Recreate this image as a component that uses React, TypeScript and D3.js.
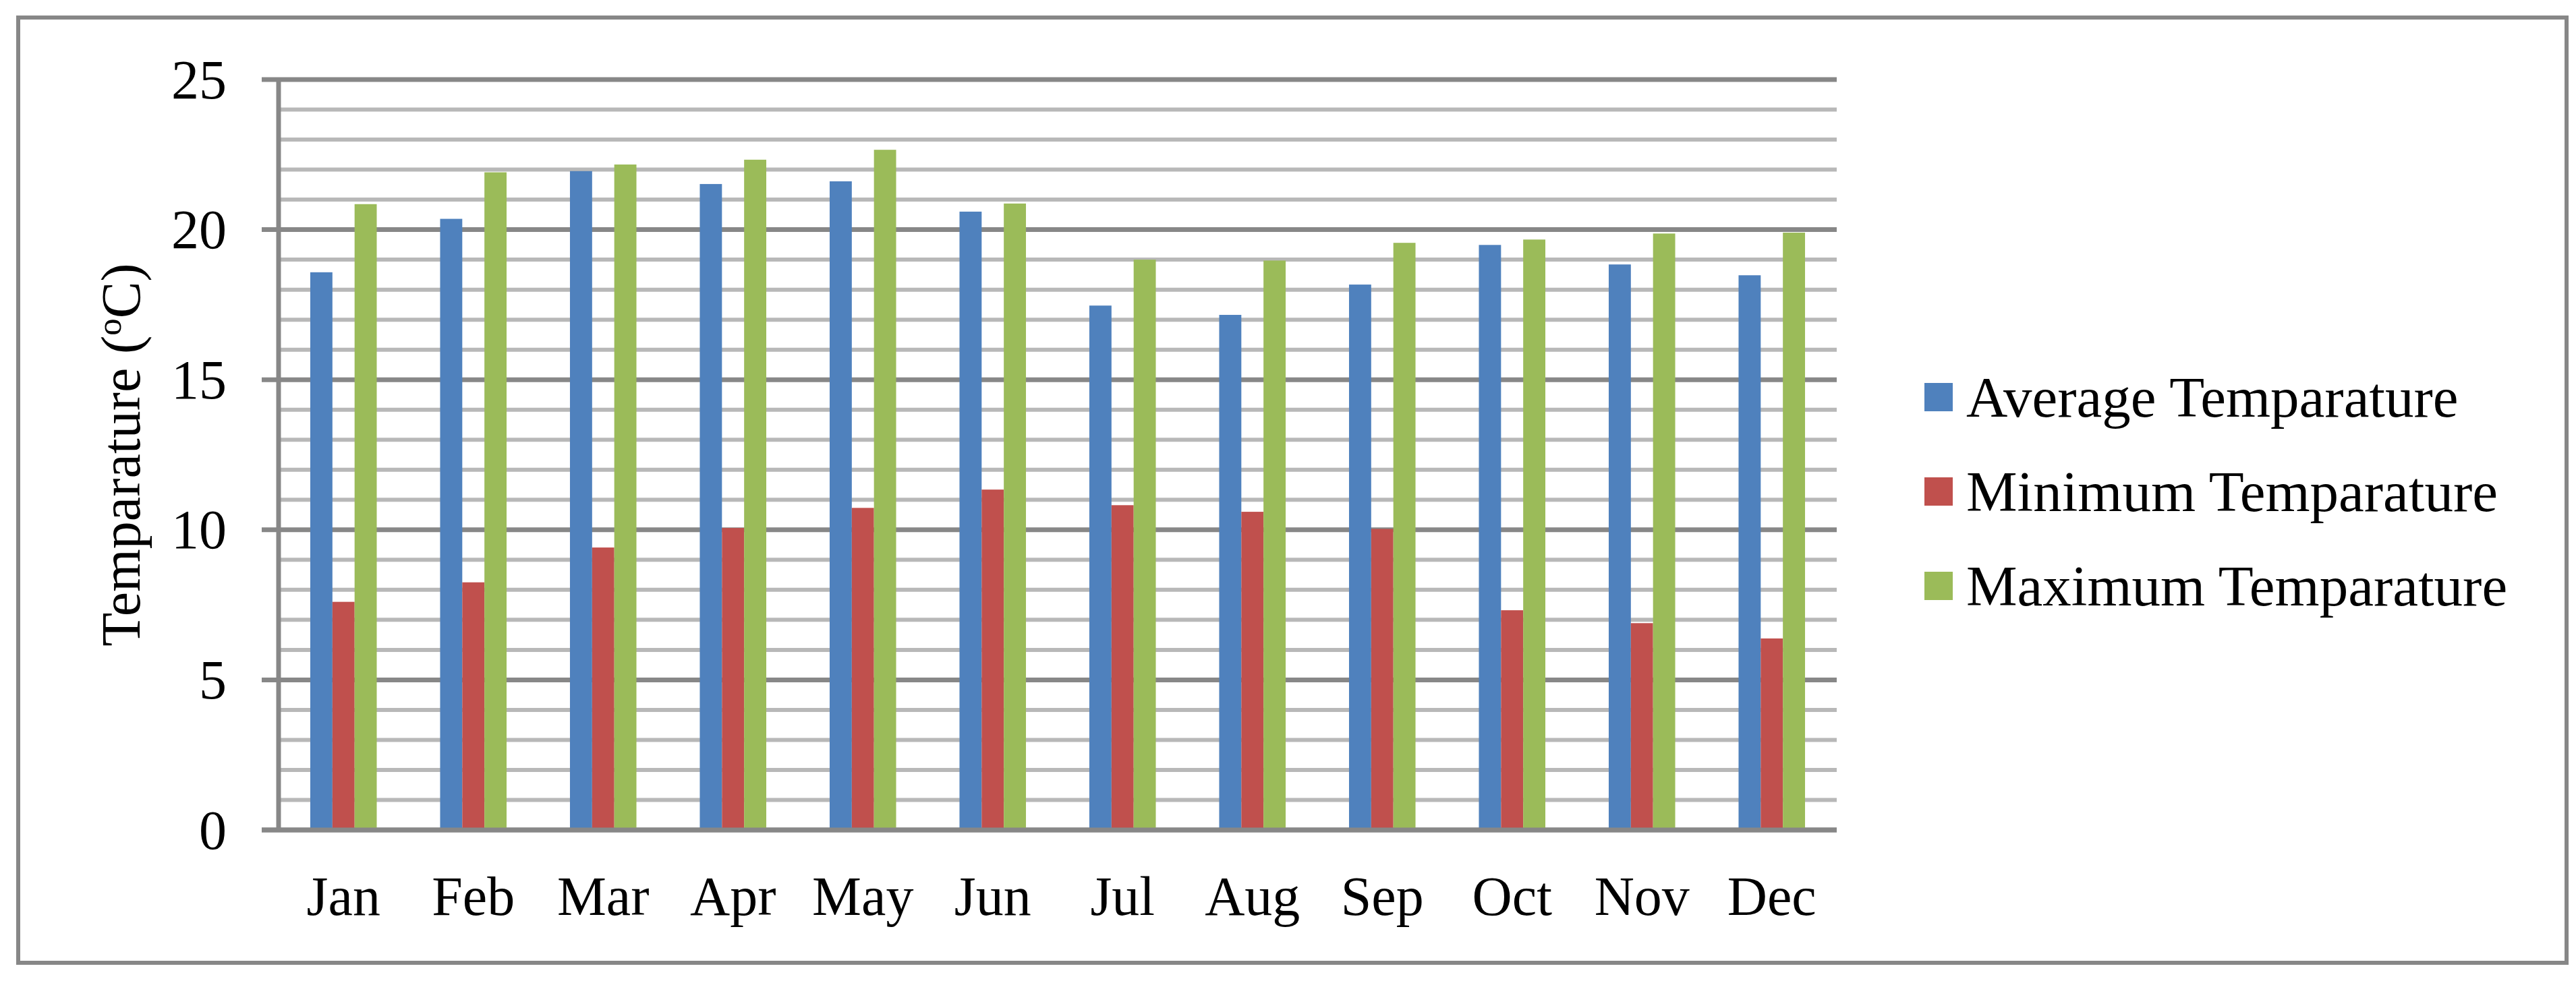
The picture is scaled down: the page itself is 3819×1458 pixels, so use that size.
import React from "react";
import * as d3 from "d3";

const months = ["Jan", "Feb", "Mar", "Apr", "May", "Jun", "Jul", "Aug", "Sep", "Oct", "Nov", "Dec"];
const seriesNames = ["Average Temparature", "Minimum Temparature", "Maximum Temparature"];
const seriesColors = ["#4F81BD", "#C0504D", "#9BBB59"];
const averageTemp = [18.58, 20.36, 21.95, 21.52, 21.61, 20.6, 17.47, 17.16, 18.17, 19.49, 18.84, 18.48];
const minimumTemp = [7.6, 8.25, 9.41, 10.06, 10.73, 11.34, 10.82, 10.6, 10.03, 7.32, 6.89, 6.38];
const maximumTemp = [20.85, 21.91, 22.17, 22.33, 22.66, 20.87, 19.0, 18.97, 19.56, 19.67, 19.87, 19.9];
const yMajorTicks = [0, 5, 10, 15, 20, 25];
const yMinorTicks = d3.range(0, 26).filter((v) => v % 5 !== 0);

const W = 3819;
const H = 1458;
const FONT = "'Liberation Serif', 'Times New Roman', serif";
const FS = 82;

export default function App() {
  const plotLeft = 413;
  const plotRight = 2723;
  const plotTop = 118;
  const plotBottom = 1231;

  const x0 = d3.scaleBand<string>().domain(months).range([plotLeft, plotRight]).padding(0);
  const x1 = d3
    .scaleBand<string>()
    .domain(seriesNames)
    .range([0, x0.bandwidth()])
    .paddingInner(0)
    .paddingOuter(1.43);
  const y = d3.scaleLinear().domain([0, 25]).range([plotBottom, plotTop]);

  const values = [averageTemp, minimumTemp, maximumTemp];
  const gridMajor = "#878787";
  const gridMinor = "#b8b8b8";

  return (
    <svg
      width={W}
      height={H}
      viewBox={`0 0 ${W} ${H}`}
      style={{ position: "absolute", left: 0, top: 0, background: "#fff" }}
    >
      <rect x={0} y={0} width={W} height={H} fill="#fff" />
      {/* outer frame */}
      <rect x={27} y={26} width={3805 - 27} height={1428 - 26} fill="none" stroke={gridMajor} strokeWidth={6} />

      {/* minor gridlines */}
      {yMinorTicks.map((t) => (
        <line key={"mi" + t} x1={plotLeft} x2={plotRight} y1={y(t)} y2={y(t)} stroke={gridMinor} strokeWidth={6} />
      ))}
      {/* major gridlines */}
      {yMajorTicks.map((t) => (
        <line key={"ma" + t} x1={plotLeft - 25} x2={plotRight} y1={y(t)} y2={y(t)} stroke={gridMajor} strokeWidth={7} />
      ))}

      {/* bars */}
      {months.map((m, i) => (
        <g key={m}>
          {seriesNames.map((s, k) => (
            <rect
              key={s}
              x={(x0(m) as number) + (x1(s) as number)}
              y={y(values[k][i])}
              width={x1.bandwidth()}
              height={y(0) - y(values[k][i])}
              fill={seriesColors[k]}
            />
          ))}
        </g>
      ))}

      {/* axes */}
      <line x1={plotLeft} x2={plotLeft} y1={plotTop} y2={plotBottom} stroke={gridMajor} strokeWidth={7} />
      <line x1={plotLeft - 25} x2={plotRight} y1={y(0)} y2={y(0)} stroke={gridMajor} strokeWidth={7} />

      {/* y tick labels */}
      {yMajorTicks.map((t) => (
        <text
          key={"yl" + t}
          x={336}
          y={y(t)}
          textAnchor="end"
          dominantBaseline="central"
          fontFamily={FONT}
          fontSize={FS}
          fill="#000"
        >
          {t}
        </text>
      ))}

      {/* x labels */}
      {months.map((m) => (
        <text
          key={"xl" + m}
          x={(x0(m) as number) + x0.bandwidth() / 2}
          y={1357}
          textAnchor="middle"
          fontFamily={FONT}
          fontSize={FS}
          fill="#000"
        >
          {m}
        </text>
      ))}

      {/* y axis title */}
      <text
        transform={`translate(207, ${(plotTop + plotBottom) / 2}) rotate(-90)`}
        textAnchor="middle"
        fontFamily={FONT}
        fontSize={FS}
        fill="#000"
      >
        Temparature (
        <tspan baselineShift="super" fontSize={FS * 0.62}>
          o
        </tspan>
        C)
      </text>

      {/* legend */}
      {seriesNames.map((s, k) => {
        const cy = 589 + k * 140;
        return (
          <g key={"lg" + s}>
            <rect x={2853} y={cy - 21} width={42} height={42} fill={seriesColors[k]} />
            <text x={2915} y={cy} dominantBaseline="central" fontFamily={FONT} fontSize={85} fill="#000">
              {s}
            </text>
          </g>
        );
      })}
    </svg>
  );
}
